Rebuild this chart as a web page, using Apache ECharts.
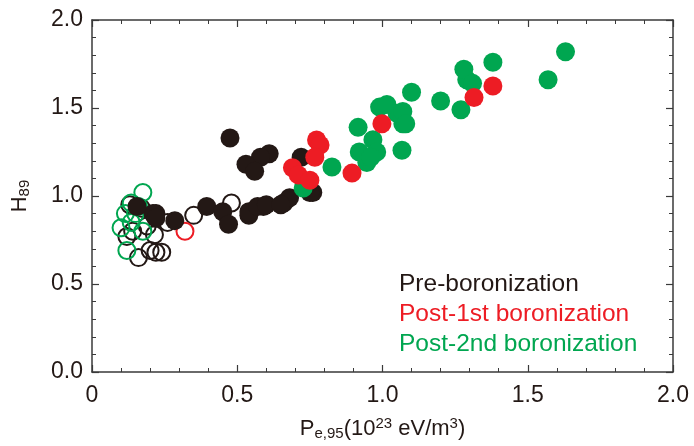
<!DOCTYPE html>
<html><head><meta charset="utf-8">
<script src="https://cdn.jsdelivr.net/npm/echarts@6/dist/echarts.min.js"></script>
<style>html,body{margin:0;padding:0;background:#fff}#c{width:694px;height:446px}</style>
</head><body><div id="c"></div>
<script>
const xTickLabels = ['0','0.5','1.0','1.5','2.0'];
const yTickLabels = ['0.0','0.5','1.0','1.5','2.0'];
const legendNames = ['Pre-boronization','Post-1st boronization','Post-2nd boronization'];
const preFilled = [[0.475,1.33],[0.61,1.24],[0.58,1.22],[0.53,1.18],[0.56,1.14],[0.72,1.22],[0.76,1.02],
  [0.54,0.89],[0.59,0.94],[0.66,0.96],[0.68,0.99],[0.395,0.94],[0.45,0.91],[0.47,0.84],[0.54,0.91],
  [0.57,0.94],[0.60,0.95],[0.65,0.95],[0.75,1.02],[0.285,0.86],[0.22,0.90],[0.21,0.90],[0.155,0.94],[0.22,0.875]];
const preOpen = [[0.48,0.96],[0.35,0.89],[0.215,0.78],[0.12,0.77],[0.16,0.65],[0.22,0.68],[0.24,0.68],
  [0.20,0.69],[0.13,0.95],[0.17,0.93],[0.19,0.83],[0.14,0.80],[0.26,0.85]];
const post1Filled = [[0.773,1.318],[0.785,1.29],[0.767,1.22],[0.69,1.16],[0.71,1.12],[0.75,1.09],
  [0.895,1.13],[0.998,1.41],[1.315,1.56],[1.38,1.625]];
const post1Open = [[0.32,0.80]];
const post2Filled = [[0.727,1.045],[0.826,1.165],[0.916,1.39],[0.92,1.25],[0.967,1.32],[0.946,1.19],
  [0.98,1.25],[0.96,1.22],[1.067,1.26],[1.07,1.41],[1.05,1.47],[0.99,1.505],[1.015,1.52],[1.10,1.59],
  [1.07,1.48],[1.08,1.41],[1.20,1.54],[1.27,1.49],[1.29,1.66],[1.28,1.72],[1.31,1.64],[1.38,1.76],
  [1.57,1.66],[1.63,1.82]];
const post2Open = [[0.175,1.02],[0.135,0.96],[0.115,0.90],[0.16,0.94],[0.10,0.82],[0.135,0.85],
  [0.175,0.80],[0.12,0.69],[0.15,0.90]];

const BLACK='#231815', RED='#ed1c24', GREEN='#00a650', AX='#3a3a3a';
const chart = echarts.init(document.getElementById('c'));
function axisBase(){
  return {min:0,max:2,interval:0.5,
    axisLine:{show:true,onZero:false,lineStyle:{color:AX,width:1.5}},
    axisTick:{show:true,inside:true,length:7,lineStyle:{color:AX,width:1.2}},
    minorTick:{show:true,splitNumber:5,length:4,lineStyle:{color:AX,width:1}},
    splitLine:{show:false},minorSplitLine:{show:false}};
}
function sc(name,data,color,open,z){
  return {type:'scatter',name:name,xAxisIndex:0,yAxisIndex:0,data:data,symbol:'circle',symbolSize:open?17:19,z:z,
    itemStyle:open?{color:'rgba(0,0,0,0)',borderColor:color,borderWidth:2,opacity:1}:{color:color,opacity:1},
    emphasis:{disabled:true}};
}
const rich = {a:{fontSize:22,color:BLACK,fontFamily:'Liberation Sans'},
  sub:{fontSize:15,color:BLACK,fontFamily:'Liberation Sans',padding:[10,0,0,0]},
  sup:{fontSize:15,color:BLACK,fontFamily:'Liberation Sans',padding:[0,0,10,0]}};
chart.setOption({
  animation:false,
  grid:{left:92,top:20,right:21,bottom:74,containLabel:false},
  legend:{orient:'vertical',left:388,top:267,itemWidth:0,itemHeight:0,itemGap:5,icon:'circle',
    selectedMode:false,
    data:[{name:legendNames[0],textStyle:{color:BLACK}},{name:legendNames[1],textStyle:{color:RED}},{name:legendNames[2],textStyle:{color:GREEN}}],
    textStyle:{fontSize:24.5,fontFamily:'Liberation Sans'}},
  xAxis:[Object.assign(axisBase(),{position:'bottom',
      axisLabel:{margin:12,fontSize:23,color:BLACK,fontFamily:'Liberation Sans',formatter:(v)=>xTickLabels[Math.round(v/0.5)]},
      name:'{a|P}{sub|e,95}{a|(10}{sup|23}{a| eV/m}{sup|3}{a|)}',nameLocation:'middle',nameGap:44,
      nameTextStyle:{rich:rich}}),
    Object.assign(axisBase(),{position:'top',axisLabel:{show:false}})],
  yAxis:[Object.assign(axisBase(),{position:'left',
      axisLabel:{margin:9,fontSize:23,color:BLACK,fontFamily:'Liberation Sans',formatter:(v)=>yTickLabels[Math.round(v/0.5)]},
      name:'{a|H}{sub|89}',nameLocation:'middle',nameGap:60,nameTextStyle:{rich:rich}}),
    Object.assign(axisBase(),{position:'right',axisLabel:{show:false}})],
  series:[
    sc(legendNames[0],preOpen,BLACK,true,2),
    sc(legendNames[1],post1Open,RED,true,3),
    sc(legendNames[2],post2Open,GREEN,true,4),
    sc(legendNames[0],preFilled,BLACK,false,5),
    sc(legendNames[2],post2Filled,GREEN,false,6),
    sc(legendNames[1],post1Filled,RED,false,7)
  ]
});
</script></body></html>
